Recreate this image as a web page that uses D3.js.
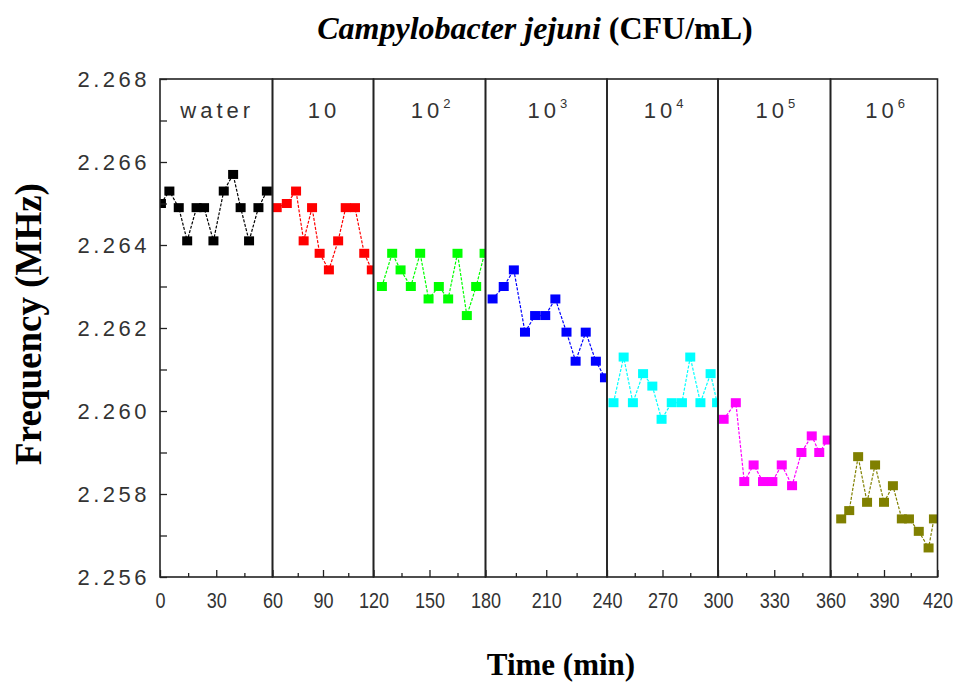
<!DOCTYPE html>
<html lang="en">
<head>
  <meta charset="utf-8">
  <title>Campylobacter jejuni frequency</title>
  <script src="https://d3js.org/d3.v7.min.js"></script>
  <style>
    body { margin: 0; background: #fff; }
    .tick text { fill: #333; }
    .series-line { fill: none; stroke-width: 1.2px; stroke-dasharray: 3,1.5; }
  </style>
</head>
<body>
<div id="chart"></div>
<script>
  // panel boundaries (min) and labels
  var panelEdges = [0, 60, 120, 180, 240, 300, 360, 420];
  var panelNames = ["water", "10", "10", "10", "10", "10", "10"];
  var panelExp = ["", "", "2", "3", "4", "5", "6"];
  var colors = ["#000000", "#ff0000", "#00ff00", "#0000ff", "#00ffff", "#ff00ff", "#808000"];

  // readings: time (min) and frequency (MHz)
  var waterTime = [0.5, 5, 10, 14.5, 19.5, 23.5, 28.5, 34, 39, 43, 47.5, 52.5, 57];
  var waterFreq = [2.2650, 2.2653, 2.2649, 2.2641, 2.2649, 2.2649, 2.2641, 2.2653, 2.2657, 2.2649, 2.2641, 2.2649, 2.2653];
  var c10Time = [62.5, 68.5, 74, 78.5, 83.5, 88, 93.5, 99, 103.5, 109, 114.5, 119];
  var c10Freq = [2.2649, 2.2650, 2.2653, 2.2641, 2.2649, 2.2638, 2.2634, 2.2641, 2.2649, 2.2649, 2.2638, 2.2634];
  var c100Time = [124.5, 130, 134.5, 140, 145, 149.5, 155, 160, 165, 170, 175, 179.5];
  var c100Freq = [2.2630, 2.2638, 2.2634, 2.2630, 2.2638, 2.2627, 2.2630, 2.2627, 2.2638, 2.2623, 2.2630, 2.2638];
  var c1e3Time = [183.5, 189, 194, 199.5, 204.5, 209.5, 214.5, 220, 224.5, 229.5, 234.5, 239];
  var c1e3Freq = [2.2627, 2.2630, 2.2634, 2.2619, 2.2623, 2.2623, 2.2627, 2.2619, 2.2612, 2.2619, 2.2612, 2.2608];
  var c1e4Time = [243.5, 249, 254, 259.5, 264.5, 269.5, 275, 280.5, 285, 290.5, 296, 299.5];
  var c1e4Freq = [2.2602, 2.2613, 2.2602, 2.2609, 2.2606, 2.2598, 2.2602, 2.2602, 2.2613, 2.2602, 2.2609, 2.2602];
  var c1e5Time = [303, 309.5, 314, 319, 324, 329, 334, 339.5, 344.5, 350, 354, 358.5];
  var c1e5Freq = [2.2598, 2.2602, 2.2583, 2.2587, 2.2583, 2.2583, 2.2587, 2.2582, 2.2590, 2.2594, 2.2590, 2.2593];
  var c1e6Time = [366, 370.5, 375.5, 380.5, 385, 390, 395, 400, 404, 409.5, 415, 418];
  var c1e6Freq = [2.2574, 2.2576, 2.2589, 2.2578, 2.2587, 2.2578, 2.2582, 2.2574, 2.2574, 2.2571, 2.2567, 2.2574];

  var yTicks = [2.256, 2.258, 2.260, 2.262, 2.264, 2.266, 2.268];
  var yMinor = [2.257, 2.259, 2.261, 2.263, 2.265, 2.267];
  var xTicks = [0, 30, 60, 90, 120, 150, 180, 210, 240, 270, 300, 330, 360, 390, 420];
  var xMinor = [15, 45, 75, 105, 135, 165, 195, 225, 255, 285, 315, 345, 375, 405];

  var times = [waterTime, c10Time, c100Time, c1e3Time, c1e4Time, c1e5Time, c1e6Time];
  var freqs = [waterFreq, c10Freq, c100Freq, c1e3Freq, c1e4Freq, c1e5Freq, c1e6Freq];

  var series = times.map(function (t, i) {
    return {
      panel: i,
      color: colors[i],
      data: t.map(function (tt, j) { return { t: tt, f: freqs[i][j] }; })
    };
  });

  var W = 964, H = 682;
  var plotTop = 79, plotBottom = 577;

  var svg = d3.select("#chart").append("svg")
          .attr("width", W)
          .attr("height", H);

  // each panel was drawn as its own frame, so the time scale is piecewise
  var x = d3.scaleLinear()
          .domain(panelEdges)
          .range([160, 272.5, 373.5, 485.5, 607, 718, 830.5, 937.5]);
  var y = d3.scaleLinear().domain([2.256, 2.268]).range([plotBottom, plotTop]);

  // clip paths, one per panel
  var defs = svg.append("defs");
  for (var i = 0; i < 7; i++) {
    defs.append("clipPath").attr("id", "clip" + i)
            .append("rect")
            .attr("x", x(panelEdges[i]))
            .attr("y", plotTop)
            .attr("width", x(panelEdges[i + 1]) - x(panelEdges[i]))
            .attr("height", plotBottom - plotTop);
  }

  // series
  var line = d3.line()
          .x(function (d) { return x(d.t); })
          .y(function (d) { return y(d.f); });

  var g = svg.selectAll(".series")
          .data(series)
          .enter()
          .append("g")
          .attr("class", "series")
          .attr("clip-path", function (d) { return "url(#clip" + d.panel + ")"; });

  g.append("path")
          .attr("class", "series-line")
          .attr("stroke", function (d) { return d.color; })
          .attr("d", function (d) { return line(d.data); });

  g.each(function (s) {
    d3.select(this).selectAll("rect")
            .data(s.data)
            .enter()
            .append("rect")
            .attr("x", function (d) { return x(d.t) - 5; })
            .attr("y", function (d) { return y(d.f) - 4.5; })
            .attr("width", 10)
            .attr("height", 9)
            .attr("fill", s.color);
  });

  // panel frames
  svg.selectAll(".frame")
          .data(d3.range(7))
          .enter()
          .append("rect")
          .attr("class", "frame")
          .attr("x", function (i) { return x(panelEdges[i]); })
          .attr("y", plotTop)
          .attr("width", function (i) { return x(panelEdges[i + 1]) - x(panelEdges[i]); })
          .attr("height", plotBottom - plotTop)
          .attr("fill", "none")
          .attr("stroke", "#222")
          .attr("stroke-width", 1.6);

  // panel labels
  var lab = svg.selectAll(".plabel")
          .data(d3.range(7))
          .enter()
          .append("text")
          .attr("class", "plabel")
          .attr("x", function (i) { return (x(panelEdges[i]) + x(panelEdges[i + 1])) / 2 + 1; })
          .attr("y", 118)
          .attr("text-anchor", "middle")
          .style("font-family", "Arial, 'Liberation Sans', sans-serif")
          .style("font-size", "22px")
          .style("letter-spacing", "4px")
          .style("fill", "#333");
  lab.append("tspan").text(function (i) { return panelNames[i]; });
  lab.append("tspan")
          .attr("dy", -10)
          .style("font-size", "13px")
          .style("letter-spacing", "0px")
          .text(function (i) { return panelExp[i]; });

  // y axis
  var yAxis = svg.append("g")
          .attr("transform", "translate(160,0)")
          .call(d3.axisLeft(y).tickValues(yTicks).tickFormat(d3.format(".3f"))
                  .tickSize(-7).tickPadding(10));
  yAxis.select(".domain").remove();
  yAxis.selectAll("text")
          .style("font-family", "Arial, 'Liberation Sans', sans-serif")
          .style("font-size", "22px")
          .style("letter-spacing", "3.5px");
  yAxis.selectAll("line").attr("stroke", "#222").attr("stroke-width", 1.3);

  var yAxisMinor = svg.append("g")
          .attr("transform", "translate(160,0)")
          .call(d3.axisLeft(y).tickValues(yMinor).tickFormat("").tickSize(-7));
  yAxisMinor.select(".domain").remove();
  yAxisMinor.selectAll("line").attr("stroke", "#222").attr("stroke-width", 1.3);

  // x axis
  var xAxis = svg.append("g")
          .attr("transform", "translate(0," + plotBottom + ")")
          .call(d3.axisBottom(x).tickValues(xTicks).tickFormat(d3.format("d"))
                  .tickSize(-7).tickPadding(15));
  xAxis.select(".domain").remove();
  xAxis.selectAll("text")
          .attr("transform", "scale(0.82,1)")
          .style("font-family", "Arial, 'Liberation Sans', sans-serif")
          .style("font-size", "22px");
  xAxis.selectAll("line").attr("stroke", "#222").attr("stroke-width", 1.3);

  var xAxisMinor = svg.append("g")
          .attr("transform", "translate(0," + plotBottom + ")")
          .call(d3.axisBottom(x).tickValues(xMinor).tickFormat("").tickSize(-4));
  xAxisMinor.select(".domain").remove();
  xAxisMinor.selectAll("line").attr("stroke", "#222").attr("stroke-width", 1.3);

  // titles
  var title = svg.append("text")
          .attr("x", 535)
          .attr("y", 39)
          .attr("text-anchor", "middle")
          .style("font-family", "'Times New Roman', 'Liberation Serif', serif")
          .style("font-weight", "bold")
          .style("font-size", "32px");
  title.append("tspan").style("font-style", "italic").text("Campylobacter jejuni");
  title.append("tspan").text(" (CFU/mL)");

  svg.append("text")
          .attr("transform", "translate(41,324) rotate(-90)")
          .attr("text-anchor", "middle")
          .style("font-family", "'Times New Roman', 'Liberation Serif', serif")
          .style("font-weight", "bold")
          .style("font-size", "37px")
          .text("Frequency (MHz)");

  svg.append("text")
          .attr("x", 561)
          .attr("y", 675)
          .attr("text-anchor", "middle")
          .style("font-family", "'Times New Roman', 'Liberation Serif', serif")
          .style("font-weight", "bold")
          .style("font-size", "31px")
          .text("Time (min)");
</script>
</body>
</html>
